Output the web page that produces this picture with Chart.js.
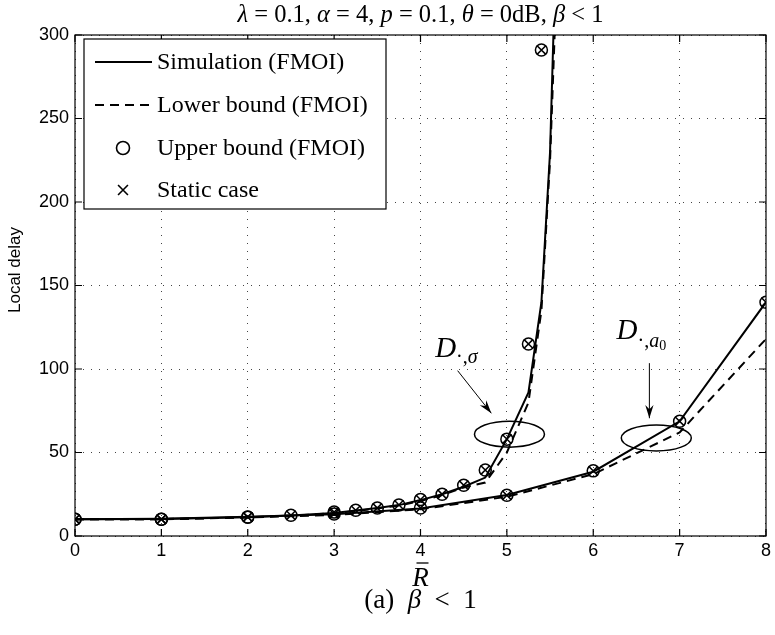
<!DOCTYPE html>
<html>
<head>
<meta charset="utf-8">
<script src="https://cdn.jsdelivr.net/npm/chart.js@4.4.0/dist/chart.umd.min.js"></script>
<style>
  body { margin: 0; background: #fff; }
</style>
</head>
<body>
<canvas id="chart" width="775" height="635"></canvas>
<script>
// ticks
const xTicks = [0, 1, 2, 3, 4, 5, 6, 7, 8];
const yTicks = [0, 50, 100, 150, 200, 250, 300];

// curve with the steep rise (sigma case)
const simX1 = [0, 1, 2, 2.5, 3, 3.25, 3.5, 3.75, 4, 4.25, 4.5, 4.75, 5, 5.25, 5.4, 5.5, 5.55];
const simY1 = [10, 10.2, 11.3, 12.3, 13.8, 15.2, 16.8, 18.5, 21.5, 25, 29.5, 35, 58, 86, 140, 230, 320];
const lowX1 = [0, 1, 2, 2.5, 3, 3.25, 3.5, 3.75, 4, 4.25, 4.5, 4.75, 5, 5.25, 5.4, 5.5, 5.56];
const lowY1 = [10, 10.1, 11.2, 12.2, 13.6, 15, 16.5, 18.2, 21, 24.5, 29, 32, 50, 80, 135, 225, 310];
const upX1 = [0, 1, 2, 2.5, 3, 3.25, 3.5, 3.75, 4, 4.25, 4.5, 4.75, 5, 5.25, 5.4];
const upY1 = [10, 10, 11.4, 12.4, 14.3, 15.4, 16.8, 18.6, 21.8, 25, 30.4, 39.5, 58, 115, 291];
const staticY1 = [10, 10, 11.4, 12.4, 14.3, 15.4, 16.8, 18.6, 21.8, 25, 30.4, 39.5, 58, 115, 291];

// curve over the whole range (a0 case)
const x2 = [0, 1, 2, 3, 4, 5, 6, 7, 8];
const simY2 = [10, 10.3, 11.5, 13, 16.5, 24.5, 38.5, 68.7, 140];
const lowY2 = [10, 10, 11.1, 12.6, 16, 23.5, 37, 62, 118];
const upY2 = [10, 10, 11.3, 13.2, 16.8, 24.4, 39, 68.7, 140];
const staticY2 = [10, 10, 11.3, 13.2, 16.8, 24.4, 39, 68.7, 140];

const legendNames = ['Simulation (FMOI)', 'Lower bound (FMOI)', 'Upper bound (FMOI)', 'Static case'];

function pts(xs, ys) {
  return xs.map((x, i) => ({ x: x, y: ys[i] }));
}

function lineSet(label, xs, ys, dash) {
  return {
    label: label, data: pts(xs, ys), showLine: true, borderColor: '#000',
    borderWidth: 2, borderDash: dash, pointRadius: 0, fill: false, clip: 0
  };
}
function markSet(label, xs, ys, style, r) {
  return {
    label: label, data: pts(xs, ys), showLine: false, pointStyle: style,
    pointRadius: r, pointBorderWidth: 1.5, pointBorderColor: '#000',
    pointBackgroundColor: 'rgba(0,0,0,0)'
  };
}

const serif = '"Liberation Serif", "DejaVu Serif", serif';
const sans = '"Liberation Sans", Arial, sans-serif';

function drawParts(ctx, parts, x, y, size, align) {
  let w = 0;
  parts.forEach(p => {
    ctx.font = (p[1] ? 'italic ' : '') + (p[2] || size) + 'px ' + serif;
    w += ctx.measureText(p[0]).width;
  });
  let cx = align === 'center' ? x - w / 2 : x;
  parts.forEach(p => {
    ctx.font = (p[1] ? 'italic ' : '') + (p[2] || size) + 'px ' + serif;
    ctx.fillText(p[0], cx, y + (p[3] || 0));
    cx += ctx.measureText(p[0]).width;
  });
}

function arrow(ctx, x1, y1, x2, y2) {
  ctx.beginPath();
  ctx.moveTo(x1, y1);
  ctx.lineTo(x2, y2);
  ctx.lineWidth = 1;
  ctx.stroke();
  const a = Math.atan2(y2 - y1, x2 - x1);
  const L = 14, W = 0.3;
  ctx.beginPath();
  ctx.moveTo(x2, y2);
  ctx.lineTo(x2 - L * Math.cos(a - W), y2 - L * Math.sin(a - W));
  ctx.lineTo(x2 - 0.65 * L * Math.cos(a), y2 - 0.65 * L * Math.sin(a));
  ctx.lineTo(x2 - L * Math.cos(a + W), y2 - L * Math.sin(a + W));
  ctx.closePath();
  ctx.fill();
}

const decor = {
  id: 'decor',
  afterDraw(chart) {
    const ctx = chart.ctx;
    const a = chart.chartArea;
    const sx = chart.scales.x, sy = chart.scales.y;
    ctx.save();
    ctx.strokeStyle = '#000';
    ctx.fillStyle = '#000';

    // box and inward ticks
    ctx.lineWidth = 1.2;
    ctx.strokeRect(a.left, a.top, a.right - a.left, a.bottom - a.top);
    ctx.beginPath();
    xTicks.forEach(v => {
      const p = sx.getPixelForValue(v);
      ctx.moveTo(p, a.bottom); ctx.lineTo(p, a.bottom - 7);
      ctx.moveTo(p, a.top); ctx.lineTo(p, a.top + 7);
    });
    yTicks.forEach(v => {
      const p = sy.getPixelForValue(v);
      ctx.moveTo(a.left, p); ctx.lineTo(a.left + 7, p);
      ctx.moveTo(a.right, p); ctx.lineTo(a.right - 7, p);
    });
    ctx.stroke();

    // title
    ctx.textBaseline = 'alphabetic';
    drawParts(ctx, [['λ', 1], [' = 0.1, '], ['α', 1], [' = 4, '], ['p', 1], [' = 0.1, '],
      ['θ', 1], [' = 0dB, '], ['β', 1], [' < 1']], (a.left + a.right) / 2, 22, 24.5, 'center');

    // axis titles and caption
    const mx = (a.left + a.right) / 2;
    ctx.font = 'italic 27px ' + serif;
    ctx.textAlign = 'center';
    ctx.fillText('R', mx, 586);
    ctx.textAlign = 'left';
    ctx.lineWidth = 1.3;
    ctx.beginPath();
    ctx.moveTo(mx - 4, 563); ctx.lineTo(mx + 8, 563);
    ctx.stroke();
    drawParts(ctx, [['(a)  '], ['β', 1], ['  <  1']], mx, 608, 27, 'center');

    ctx.save();
    ctx.translate(20, 270);
    ctx.rotate(-Math.PI / 2);
    ctx.font = '17px ' + sans;
    ctx.textAlign = 'center';
    ctx.fillText('Local delay', 0, 0);
    ctx.restore();

    // annotations: ellipses, arrows, labels
    ctx.lineWidth = 1.5;
    ctx.beginPath();
    ctx.ellipse(sx.getPixelForValue(5.03), sy.getPixelForValue(61), 35, 13, 0, 0, Math.PI * 2);
    ctx.stroke();
    ctx.beginPath();
    ctx.ellipse(sx.getPixelForValue(6.73), sy.getPixelForValue(58.7), 35, 13, 0, 0, Math.PI * 2);
    ctx.stroke();
    arrow(ctx, sx.getPixelForValue(4.43), sy.getPixelForValue(99), sx.getPixelForValue(4.82), sy.getPixelForValue(73.5));
    arrow(ctx, sx.getPixelForValue(6.65), sy.getPixelForValue(103.5), sx.getPixelForValue(6.65), sy.getPixelForValue(70.5));

    drawParts(ctx, [['D', 1, 29], ['·,', 0, 20, 6], ['σ', 1, 20, 6]],
      sx.getPixelForValue(4.17), sy.getPixelForValue(107), 29, 'left');
    drawParts(ctx, [['D', 1, 29], ['·,', 0, 20, 8], ['a', 1, 20, 8], ['0', 0, 14, 11]],
      sx.getPixelForValue(6.27), sy.getPixelForValue(118), 29, 'left');

    // legend
    const bx = 84, by = 39, bw = 302, bh = 170;
    ctx.fillStyle = '#fff';
    ctx.fillRect(bx, by, bw, bh);
    ctx.fillStyle = '#000';
    ctx.lineWidth = 1.2;
    ctx.strokeRect(bx, by, bw, bh);
    const rows = [62, 105, 148, 190];
    const ds = chart.data.datasets;
    legendNames.forEach((name, i) => {
      const d = ds[i];
      const y = rows[i];
      if (d.showLine) {
        ctx.lineWidth = 2;
        ctx.setLineDash(d.borderDash || []);
        ctx.beginPath();
        ctx.moveTo(95, y); ctx.lineTo(152, y);
        ctx.stroke();
        ctx.setLineDash([]);
      } else {
        ctx.save();
        ctx.lineWidth = 1.6;
        ctx.fillStyle = 'rgba(0,0,0,0)';
        Chart.helpers.drawPoint(ctx, { pointStyle: d.pointStyle, radius: d.pointStyle === 'circle' ? 6.5 : 7, rotation: 0, borderWidth: 1.6 }, 123, y);
        ctx.restore();
      }
      ctx.font = '24px ' + serif;
      ctx.textBaseline = 'middle';
      ctx.fillText(name, 157, y + 1);
    });
    ctx.restore();
  }
};

const tickFont = { family: sans, size: 18 };

new Chart(document.getElementById('chart'), {
  type: 'scatter',
  data: {
    datasets: [
      lineSet(legendNames[0], simX1, simY1, []),
      lineSet(legendNames[1], lowX1, lowY1, [9, 6]),
      markSet(legendNames[2], upX1, upY1, 'circle', 6),
      markSet(legendNames[3], upX1, staticY1, 'crossRot', 6.5),
      lineSet(legendNames[0], x2, simY2, []),
      lineSet(legendNames[1], x2, lowY2, [9, 6]),
      markSet(legendNames[2], x2, upY2, 'circle', 6),
      markSet(legendNames[3], x2, staticY2, 'crossRot', 6.5)
    ]
  },
  options: {
    responsive: false,
    animation: false,
    events: [],
    layout: { padding: { left: 0, right: 5, top: 35, bottom: 0 } },
    plugins: { legend: { display: false }, tooltip: { enabled: false } },
    scales: {
      x: {
        type: 'linear', min: 0, max: 8,
        afterBuildTicks: s => { s.ticks = xTicks.map(v => ({ value: v })); },
        afterFit: s => { s.height = 99; },
        ticks: { font: tickFont, color: '#000', padding: 4, maxRotation: 0 },
        grid: { color: '#444', lineWidth: 1, drawTicks: false },
        border: { display: false, dash: [1, 7] }
      },
      y: {
        type: 'linear', min: 0, max: 300,
        afterBuildTicks: s => { s.ticks = yTicks.map(v => ({ value: v })); },
        afterFit: s => { s.width = 75; },
        ticks: { font: tickFont, color: '#000', padding: 6 },
        grid: { color: '#444', lineWidth: 1, drawTicks: false },
        border: { display: false, dash: [1, 7] }
      }
    }
  },
  plugins: [decor]
});
</script>
</body>
</html>
